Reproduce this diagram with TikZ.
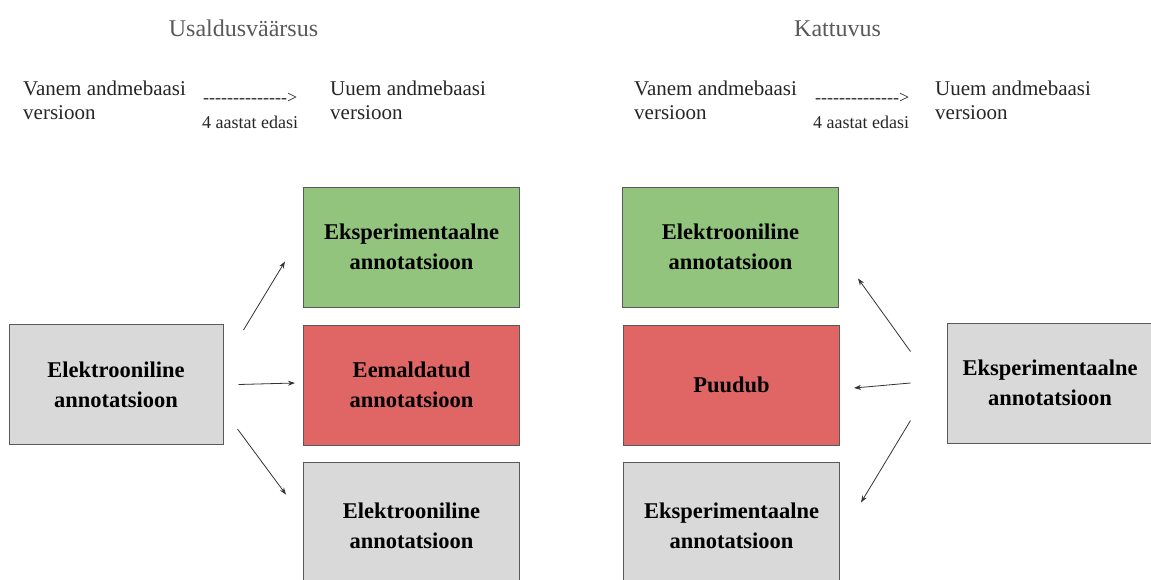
\documentclass[tikz,border=0pt]{standalone}
\usepackage{fontspec}
\setmainfont{Liberation Serif}
\newfontfamily\plainfont{Liberation Serif}[Ligatures=TeXOff]
\usetikzlibrary{arrows.meta,calc}
\definecolor{boxgreen}{HTML}{93C47D}
\definecolor{boxred}{HTML}{E06666}
\definecolor{boxgrey}{HTML}{D9D9D9}
\definecolor{edgegrey}{HTML}{595959}
\definecolor{titlegrey}{HTML}{595959}
\begin{document}
\begin{tikzpicture}[x=1pt,y=-1pt,
    box/.style={draw=edgegrey,line width=1pt,minimum width=216pt,minimum height=120pt,align=center,inner sep=0pt,font=\fontsize{22.5}{30}\selectfont\bfseries},
    note/.style={align=left,inner sep=0pt,anchor=north west,text=black!85,font=\fontsize{21}{24}\selectfont},
    small/.style={inner sep=0pt,anchor=base west,text=black!85,font=\fontsize{18}{22}\selectfont},
    title/.style={inner sep=0pt,anchor=base,text=titlegrey,font=\fontsize{24}{28}\selectfont},
    arr/.style={draw=black!80,line width=0.8pt,-{Stealth[length=7pt,width=5pt]}}]
  \useasboundingbox (0,0) rectangle (1151,579);
  \clip (0,0) rectangle (1151,579);

  % left half
  \node[title] (ttl1) at (243.5,36) {Usaldusväärsus};
  \node[note] (old1) at (23,81) {Vanem andmebaasi\\versioon};
  \node[small] (dash1) at (203,103) {\plainfont -------------->};
  \node[small] (yrs1) at (202,128) {4 aastat edasi};
  \node[note] (new1) at (330,81) {Uuem andmebaasi\\versioon};

  \node[box,fill=boxgrey,minimum width=214pt] (src1) at (116,384.5) {Elektrooniline\\annotatsioon};
  \node[box,fill=boxgreen] (g1) at (411.5,247) {Eksperimentaalne\\annotatsioon};
  \node[box,fill=boxred] (r1) at (411.5,385) {Eemaldatud\\annotatsioon};
  \node[box,fill=boxgrey,minimum height=128pt] (e1) at (411.5,526) {Elektrooniline\\annotatsioon};

  \draw[arr] ($(src1.north east)+(20,6)$) -- ($(g1.south west)+(-18,-46)$);
  \draw[arr] ($(src1.east)+(15,0)$) -- ($(r1.west)+(-8,-2)$);
  \draw[arr] ($(src1.south east)+(14,-16)$) -- ($(e1.north west)+(-17,33)$);

  % right half
  \node[title] (ttl2) at (837.5,36) {Kattuvus};
  \node[note] (old2) at (634,81) {Vanem andmebaasi\\versioon};
  \node[small] (dash2) at (815,103) {\plainfont -------------->};
  \node[small] (yrs2) at (813,128) {4 aastat edasi};
  \node[note] (new2) at (935,81) {Uuem andmebaasi\\versioon};

  \node[box,fill=boxgreen] (g2) at (730.5,247) {Elektrooniline\\annotatsioon};
  \node[box,fill=boxred] (r2) at (731.5,385) {Puudub};
  \node[box,fill=boxgrey,minimum height=128pt] (e2) at (731.5,526) {Eksperimentaalne\\annotatsioon};
  \node[box,fill=boxgrey,minimum width=206pt] (src2) at (1050,383) {Eksperimentaalne\\annotatsioon};

  \draw[arr] ($(src2.north west)+(-36,29)$) -- ($(g2.south east)+(19,-29)$);
  \draw[arr] ($(src2.west)+(-36,0)$) -- ($(r2.east)+(14,3)$);
  \draw[arr] ($(src2.south west)+(-36,-23)$) -- ($(e2.north east)+(21,41)$);
\end{tikzpicture}
\end{document}
